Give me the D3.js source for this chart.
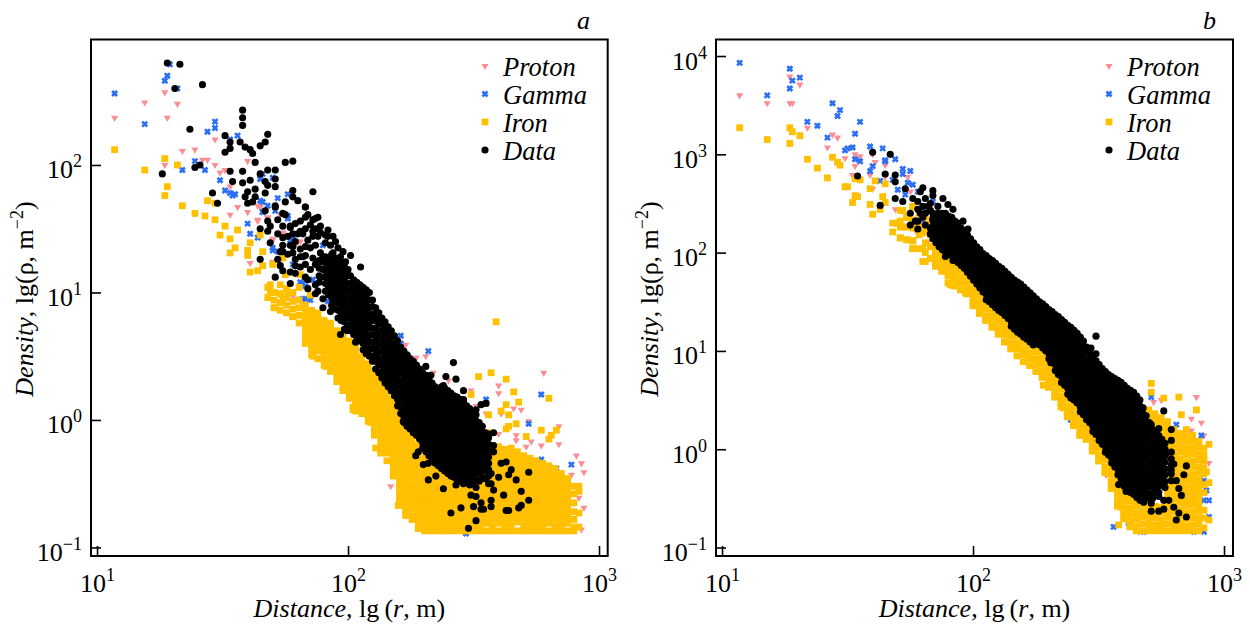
<!DOCTYPE html>
<html><head><meta charset="utf-8">
<script src="https://cdn.jsdelivr.net/npm/d3@7"></script>
<style>
html,body{margin:0;padding:0;background:#fff}
svg{display:block}
text{font-family:"Liberation Serif","Times New Roman",serif;fill:#000}
</style></head><body>
<svg id="c" width="1250" height="628"></svg>
<script>
// Values: each row is [lg r x100, lg rho x100, lg rho x100, ...]
const seriesNames = ["Proton","Gamma","Iron","Data"];
const xTicks = [10,100,1000];
const yTicksA = [0.1,1,10,100];
const yTicksB = [0.1,1,10,100,1000,10000];

const protonA = [[107,237],[119,249],[127,257,200],[132,248],[128,237],[147,220],[134,211],[139,212],[144,204],[142,204],[147,200],[149,194],[151,196],[153,183],[160,203,163],[156,167],[153,161],[165,167],[164,168,157,156],[173,161],[168,158,159],[170,141,124,142],[174,146,147],[181,140,95],[179,137],[161,123],[180,95,140],[182,91],[193,89],[178,97],[223,59],[227,48,49],[231,50],[229,37,38],[234,37],[195,44],[278,37],[260,27,21,-11],[249,23],[240,31],[266,9],[269,8],[261,5],[272,-1],[267,-12,-16],[284,-5,-19],[271,-21],[273,-17,-31],[277,-20],[270,-29],[291,-28],[293,-34],[294,-41,-69],[292,-61],[293,-86],[217,-52],[221,-33],[251,11],[247,11],[242,12],[255,5],[289,-43]];
const gammaA = [[107,256],[119,232],[129,279],[128,270],[127,266],[132,260],[147,234,229],[144,226],[156,223],[153,220],[139,203],[134,196],[143,196],[149,188],[151,180],[153,178],[155,177],[154,176],[160,154],[161,146],[164,143],[165,189,172],[166,193,163],[170,190,135,133],[172,174,132],[176,177,160],[166,171,163],[168,168],[171,164],[176,158],[178,142,141],[177,141],[178,122],[182,107,95],[183,105,95],[186,110],[181,108],[185,94],[190,137],[192,93],[204,63],[206,63],[221,66,60],[224,50],[226,45],[232,54],[212,29,30],[217,69],[255,16],[277,20,-31],[272,-3],[267,-29],[283,-38],[289,-35,-65],[230,-63],[237,-86],[247,-89],[276,-64],[282,-58],[286,-76],[271,-68],[224,-34],[227,-12]];
const ironA = [[107,212],[119,196],[127,205,176],[132,200],[128,183],[134,168],[139,162],[143,160],[144,172],[147,170,157],[151,152],[156,149],[149,145],[153,142,131],[155,135],[165,145],[161,139,116],[160,133,129],[166,132,121],[164,117],[170,122],[174,127,94],[175,114],[169,106,101],[173,99],[176,99],[171,88],[178,81],[181,114],[185,98,82],[188,81],[259,77],[252,34],[257,37],[263,32,12],[266,22],[280,17],[249,20],[268,14],[264,4,-5],[256,4,-10],[261,7],[263,-7],[267,-3],[277,-8],[281,-12],[283,-8],[280,-15],[271,-13],[186,50],[191,42],[198,23],[202,10,8],[209,-2],[211,-22],[213,-26],[220,-67],[223,-73],[226,-78],[228,-85],
[168,104,96],[170.5,100,94,88],[173,106,99,92,86],[175.5,103,96,90,84],[178,100,93,87,81],[180.5,104,94,88,82,76],[183,90,85,80,75,70,65,60],[185.5,86,81,76,71,66,61,56,51],[188,84,79,74,69,64,59,54,48],[190.5,78,73,68,63,58,53,48,43],[193,76,71,66,61,56,51,46,41,38],[195.5,70,65,60,55,50,45,40,35,30],[198,66,61,56,51,46,41,36,31,26,23],[200.5,62,57,52,47,42,37,32,27,22,17],[203,56,51,46,41,36,31,26,21,16,11,7],[205.5,50,45,40,35,30,25,20,15,10,5],[208,44,39,34,29,24,19,14,9,4,-1],[210.5,38,33,28,23,18,13,8,3,-2,-7,-12],[213,32,27,22,17,12,7,2,-3,-8,-13,-18,-23],[215.5,24,19,14,9,4,-1,-6,-11,-16,-21,-26,-32],[218,16,11,6,1,-4,-9,-14,-19,-24,-29,-34,-39,-44],[220.5,8,3,-2,-7,-12,-17,-22,-27,-32,-37,-42,-47,-52,-57,-62,-67],[223,0,-5,-10,-15,-20,-25,-30,-35,-40,-45,-50,-55,-60,-65,-70,-75],[225.5,-10,-15,-20,-25,-30,-35,-40,-45,-50,-55,-60,-65,-70,-75,-78],[228,-20,-25,-30,-35,-40,-45,-50,-55,-60,-65,-70,-75,-80,-85],
[230.5,-30,-35,-40,-45,-50,-55,-60,-65,-70,-75,-80,-85,-87],[233,-32,-37,-42,-47,-52,-57,-62,-67,-72,-77,-82,-87],[235.5,-30,-35,-40,-45,-50,-55,-60,-65,-70,-75,-80,-85,-87],[238,-32,-37,-42,-47,-52,-57,-62,-67,-72,-77,-82,-87],[240.5,-40,-45,-50,-55,-60,-65,-70,-75,-80,-85,-87],[243,-42,-47,-52,-57,-62,-67,-72,-77,-82,-87],[245.5,-40,-45,-50,-55,-60,-65,-70,-75,-80,-85,-87],[248,-42,-47,-52,-57,-62,-67,-72,-77,-82,-87],[250.5,-40,-45,-50,-55,-60,-65,-70,-75,-80,-85,-87],[253,-32,-37,-42,-47,-52,-57,-62,-67,-72,-77,-82,-87],
[255,-21,-26,-31,-36,-41,-46,-51,-56,-61,-66,-71,-76,-81,-87],[257.5,-23,-28,-33,-38,-43,-48,-53,-58,-63,-68,-73,-78,-83,-87],[260,-21,-26,-31,-36,-41,-46,-51,-56,-61,-66,-71,-76,-81,-87],[262.5,-23,-28,-33,-38,-43,-48,-53,-58,-63,-68,-73,-78,-83,-87],[265,-22,-27,-32,-37,-42,-47,-52,-57,-62,-67,-72,-77,-82,-87],[267.5,-25,-30,-35,-40,-45,-50,-55,-60,-65,-70,-75,-80,-87],[270,-28,-33,-38,-43,-48,-53,-58,-63,-68,-73,-78,-83,-87],[272.5,-30,-35,-40,-45,-50,-55,-60,-65,-70,-75,-80,-85,-87],[275,-32,-37,-42,-47,-52,-57,-62,-67,-72,-77,-82,-87],[277.5,-34,-39,-44,-49,-54,-59,-64,-69,-74,-79,-84,-87],[280,-36,-41,-46,-51,-56,-61,-66,-71,-76,-81,-87],[282.5,-38,-43,-48,-53,-58,-63,-68,-73,-78,-83,-87],[285,-42,-47,-52,-57,-62,-67,-72,-77,-82,-87],[287.5,-46,-51,-56,-61,-66,-71,-76,-81,-87],[290,-52,-58,-65,-72,-78,-84,-87],[292,-52,-56,-73,-84]];
const dataA = [[128,280],[133,279],[131,260],[142,263],[158,243,237,231,195,186],[137,228],[151,223,210],[168,224,196,184],[167,218,187],[165,215,193],[153,218,213,195],[157,218],[159,214,175],[161,212,188],[162,209],[163,202,181,175],[175,202,171,161],[178,203,180,175],[141,200],[139,198],[126,193],[171,196,189,167,183],[154,187],[186,179],[160,179,170],[146,178],[148,170],[167,178,164],[162,171],[180,172,146],[183,167,159],[168,156,148],[174,162,143,132],[165,150,126],[169,152,139],[177,152,116,107],[187,158],[189,152,131],[192,149,144,125],[186,144,127],[178,131,146,136],[182,128,146],[173,121,132],[171,112,168],[195,140],[199,124],[205,120],[177,151,137],[179,154,121],[181,156,128],[183,167,129],[184,161,141],[186,157,148],[188,159,144,101],[191,145,139],[193,137,85],[197,128,67],[201,129],[196,125],[200,118],[190,95],[203,61],
[172,157,146,126],[174,152,137,117],[176,144,130],[179,140,126,115],[181,148,134,120],[183,150,136,122,112],[185,153,135,118],[187,150,137,122,106,99],[189,147,124,112],[190,128,118,88],[194,144,131,122,92],[196,135,118],[198,132,112],[184,103,110],
[242,45],[231,42,35],[233,35],[239,34],[243,32],[238,27],[246,23,16],[253,12,-7],[255,13],[251,8,-1],[222,-1],[256,-11],[258,-10],[227,-28],[228,-25],[230,-35],[232,-34,-47],[235,-44],[238,-54],[243,-51],[241,-73],[245,-69],[251,-79,-60],[248,-85],[250,-68],[253,-70,-65],[254,-70],[257,-68,-63,-42,-50],[249,-59],[258,-55,-20,-25],[262,-59],[264,-71,-43],[263,-71,-33],[268,-69],[269,-67,-56],[272,-63,-41],[267,-47],[265,-39],[261,-34],[260,-45],[253,-42],[255,-46,-24],
[188.5,125,119,113,108],[191,128,123,117,112,107,101],[193.5,130,124,118,113,107,101,96,90],[196,125,120,114,108,103,97,92,86,80],[198.5,122,116,110,104,99,93,88,82,77,71],[201,113,107,102,96,91,85,80,75,70],[203.5,108,103,97,92,86,81,76,70,65],[206,104,98,92,87,82,76,71,65,60,55],[208.5,100,94,88,82,77,72,66,61,55,50],[211,88,83,78,72,67,62,56,51,46,40],[213.5,80,75,70,64,59,54,48,43,38,33],[216,73,68,63,57,52,47,41,36,31,26],[218.5,66,60,55,50,45,40,34,29,24,19],[221,57,52,47,42,37,31,26,21,16,10,5],[223.5,51,46,41,36,31,26,21,16,10,5,0,-5],[226,46,41,36,31,26,21,15,10,5,0,-5,-10],[228.5,40,35,30,25,20,15,10,5,0,-5,-10,-15],[231,35,30,25,20,15,10,5,0,-5,-10,-15,-20,-25],[233.5,29,24,19,14,9,4,-1,-6,-11,-16,-21,-26,-31],[236,24,19,14,9,4,-1,-6,-11,-16,-21,-26,-31,-36],[238.5,25,20,15,10,5,0,-5,-10,-15,-20,-25,-30,-35,-40],[241,21,16,11,6,1,-4,-9,-14,-19,-24,-29,-34,-39,-44],[243.5,18,13,8,3,-2,-7,-12,-17,-22,-27,-32,-37,-42,-47],[246,14,9,4,-1,-6,-11,-16,-21,-26,-31,-36,-41,-46,-50],[248.5,9,4,-1,-6,-11,-16,-21,-26,-31,-36,-41,-46,-51],[251,4,-1,-6,-11,-16,-21,-26,-31,-36,-41,-47,-53],[253.5,-5,-10,-15,-20,-25,-30,-35,-40,-46],[256,-14,-19,-24,-29,-34,-39,-44,-50],
[192.25,126,120,115,110,104,98],[194.75,127,121,116,110,104,99,93,87],[197.25,124,118,112,106,100,95,89,84,78],[199.75,118,113,107,101,96,90,85,80,74,70],[202.25,110,105,99,94,88,83,78,73,67],[204.75,106,100,95,89,84,78,73,68,62],[207.25,102,96,90,85,79,74,68,63,58,52],[209.75,94,89,83,78,72,67,61,56,50,46],[212.25,84,79,75,69,64,59,53,48,43,37],[214.75,77,72,66,61,55,50,45,39,34,29],[217.25,70,65,60,54,49,44,38,33,28,23],[219.75,62,57,52,47,42,37,32,27,21,16,11],[222.25,54,49,44,39,34,28,23,18,13,8,3,-2],[224.75,48,43,38,33,28,23,18,13,8,3,-2,-7],[227.25,43,38,33,28,23,18,13,8,3,-2,-7,-12],[229.75,37,32,27,22,17,12,7,2,-3,-8,-13,-18,-22],[232.25,32,27,22,17,12,7,2,-3,-8,-13,-18,-23,-28],[234.75,26,21,16,11,6,1,-4,-9,-14,-19,-24,-29,-34],[237.25,26,21,16,11,7,2,-3,-8,-13,-18,-23,-28,-33,-38],[239.75,23,18,13,8,3,-2,-7,-12,-17,-22,-27,-32,-37,-42],[242.25,19,15,10,5,0,-5,-10,-15,-20,-25,-30,-35,-40,-45],[244.75,16,11,6,1,-4,-9,-14,-19,-24,-29,-34,-39,-44,-48],[247.25,11,6,1,-4,-9,-14,-19,-24,-29,-34,-39,-44,-49],[249.75,6,1,-4,-9,-14,-19,-24,-29,-34,-39,-44,-50],[252.25,-2,-7,-12,-17,-22,-27,-32,-37,-42,-48],[254.75,-10,-15,-20,-25,-30,-35,-40,-46]];

const protonB = [[107,360],[118,352],[127,352,379],[128,352],[131,371],[134,327],[144,320],[146,317],[142,307],[149,296],[153,300,288],[155,298],[161,292],[160,300,265],[165,289,277],[159,279],[152,279],[174,277],[169,244],[175,262],[177,223],[182,211],[183,242],[197,169],[202,187],[289,53],[291,27],[287,31],[283,36],[272,48],[262,60],[249,91],[294,-14],[292,14],[287,19],[275,50],[266,-84],[286,1],[253,-26]];
const gammaB = [[107,393],[118,360],[127,387],[128,375],[127,367],[131,378],[144,352],[147,345],[146,339],[134,333],[138,329],[155,333],[153,321],[142,317],[149,304],[150,306],[152,307],[159,308,283],[164,306],[169,295],[153,295],[155,293],[165,293,294],[160,288],[172,285,280],[175,283],[163,273],[168,274],[174,271],[176,269],[170,264],[173,259],[178,262],[184,252],[180,233],[187,209],[192,213],[194,223],[197,196],[239,35,30],[240,28],[249,6],[253,-24],[256,-35,-40,-79],[262,-60,-75],[261,-65],[271,53],[281,25],[291,14],[294,-52,-69],[292,-52,-32],[289,-18],[268,-84],[288,-84],[292,-84],[263,-48],[293,-42]];
const ironB = [[107,327],[118,315],[127,311,327],[128,323],[131,319],[134,295],[138,286],[142,276],[144,297],[146,292],[147,289],[149,267],[150,267],[152,251],[153,258,275],[154,257],[155,274],[159,265,249],[161,273],[165,270,251],[164,257],[160,239],[163,244],[168,230,221],[170,230],[172,226,243],[171,215],[174,213,236],[176,212,204,233],[176,247],[180,204,191,220],[184,206],[183,194],[185,189],[188,189],[189,181],[191,167],[194,169],[197,159],[200,150],[271,67,58],[276,52],[282,53],[289,40],[283,35],[294,5,-34,-72],[236,42],[228,65],[293,-23],[258,-77],[259,-59],[261,-67],
[171,243,232,226,215],[173.5,236,226,213],[176,247,233,225,212,204],[178.5,240,228,218,204],[181,236,222,210,200,191],[183,231,218,206,194],
[185,205,199,192,186],[187.5,200,194,187,181],[190,195,189,182,176,169],[192.5,192,186,179,173,166],[195,188,182,175,169,162],[197.5,184,177,171,164,158],[200,176,170,163,157,150,146],[202.5,170,163,157,150,144,138],[205,162,156,149,143,136,131],[207.5,156,149,143,136,130,124],[210,148,142,135,129,122,117],[212.5,142,135,129,122,116,109],[215,134,128,121,115,108,102],[217.5,128,121,115,108,102,95],[220,122,115,109,102,96,89],[222.5,118,111,105,98,92,85],[225,112,105,99,92,86,79],[227.5,106,100,93,87,80,73],[230,102,95,89,82,76,69,63],[232.5,92,85,79,72,66,59,53],[235,80,74,67,61,54,48,43],[237.5,70,64,57,51,44,38,33],[240,60,54,47,41,34,28,24],[242.5,50,44,37,31,24,18,14],[245,40,34,27,21,14,10],[247.5,30,24,17,11,4,-2],[250,20,14,7,1,-6,-12],[252.5,8,2,-5,-11,-18,-24],[255,0,-7,-13,-20,-26,-33,-40],[257.5,-20,-27,-33,-40,-46,-53,-58],[260,-34,-40,-47,-53,-60,-66,-71],[262.5,-40,-47,-53,-60,-66,-73,-79],[265,-45,-52,-58,-65,-71,-78,-83],[267.5,-50,-56,-63,-69,-76,-83],[270,40,34,27,-52,-58,-65,-71,-77,-83],[272.5,36,30,24,-58,-64,-70,-77,-83],[275,32,26,19,13,7,-59,-65,-72,-78,-83],
[277.5,28,22,15,9,2,-4,-11,-17,-24,-30,-37,-43,-50,-56,-63,-69,-76,-83],[280,20,14,7,1,-6,-12,-19,-25,-32,-38,-45,-51,-58,-64,-71,-77,-83],[282.5,16,10,3,-3,-10,-16,-23,-29,-36,-42,-49,-55,-62,-68,-75,-81,-83],[285,20,13,7,0,-6,-13,-19,-26,-32,-39,-45,-52,-58,-65,-71,-78,-83],[287.5,14,8,1,-5,-12,-18,-25,-31,-38,-44,-51,-57,-64,-70,-77,-83],[290,8,2,-5,-11,-18,-24,-31,-37,-44,-50,-57,-63,-70,-76,-83],[292,1,-6,-12,-19,-25,-36,-44,-62,-70,-80]];
const dataB = [[160,302],[167,300],[154,278],[165,280],[169,279,272],[173,265],[163,248],[169,255],[172,252],[176,255],[180,266,236],[179,262,240],[184,263,258],[188,255],[190,249,213],[192,244,192],[177,232],[180,247],[182,247],[184,235],[186,247,240,226],[183,225],[189,236,196],[194,230,203],[196,232,187],[198,224],[200,181],[175,240,228],[178,252,244,232,224],[181,255,240,228],[183,250,243,219],
[249,115,97],[247,103],[276,39,-61],[279,20,9],[274,21,-63,-48],[271,25,-63,-55],[285,-17,-69],[280,-15,-59],[277,-4],[279,-21],[284,-26],[281,-32,-72],[282,-40,-65],[283,-47],[278,-52],[276,-52],[268,-54],[266,-47],[261,-43],[258,-36,-23],[260,-25],[263,-41],[269,-45],[239,52],[231,88],[237,79],[207,150],
[184,240,233,227,220,214],[186.5,238,232,225,219,212,206],[189,240,234,227,221,214,208,201],[191.5,236,229,223,216,210,203,197],[194,228,222,215,209,202,196,190],[196.5,222,216,209,203,196,190,184],[199,214,208,201,195,188,182,176],[201.5,206,200,193,187,180,174,168],[204,199,193,186,180,173,167,160],[206.5,194,188,181,175,168,162,155,150],[209,189,183,176,170,163,157,150,144],[211.5,184,178,171,165,158,152,145,139],[214,178,172,165,159,152,146,139,133],[216.5,172,166,159,153,146,140,133,127,122],[219,168,162,155,149,142,136,129,123,117],[221.5,162,156,149,143,136,130,123,117,112],[224,156,150,143,137,130,124,117,111,106],[226.5,150,144,137,131,124,118,111,106],[229,145,139,132,126,119,113,106,100],[231.5,140,134,127,121,114,108,101,95,88],[234,135,129,122,116,109,103,96,90,83,76],[236.5,129,123,116,110,103,97,90,84,77,71,65],[239,124,118,111,105,98,92,85,79,72,66,59,53],[241.5,118,112,105,99,92,86,79,73,66,60,53,47],[244,110,104,97,91,84,78,71,65,58,52,45,39,35],[246.5,98,92,85,79,72,66,59,53,46,40,33,27],[249,90,84,77,71,64,58,51,45,38,32,25,19,15],[251.5,82,76,69,63,56,50,43,37,30,24,17,11,5],[254,76,70,63,57,50,44,37,31,24,18,11,5,-2,-6],[256.5,72,66,59,53,46,40,33,27,20,14,7,1,-6,-12,-18],[259,68,62,55,49,42,36,29,23,16,10,3,-3,-10,-16,-23,-30],[261.5,62,56,49,43,36,30,23,17,10,4,-3,-9,-16,-22,-29,-35,-42],[264,58,52,45,39,32,26,19,13,6,0,-7,-13,-20,-26,-33,-39,-46],[266.5,50,44,37,31,24,18,11,5,-2,-8,-15,-21,-28,-34,-41,-47,-52],[269,34,28,21,15,8,2,-5,-11,-18,-24,-31,-37,-44,-50],[271.5,20,14,7,1,-6,-12,-19,-25,-32,-38,-45,-50],[274,14,8,1,-5,-12,-18,-25,-31,-38,-44],[276.5,6,0,-7,-13,-20,-26,-33,-39],[279,-3,-10,-16,-25,-32],
[185.25,236,230,223,217,210],[187.75,240,235,229,222,216,209,203],[190.25,237,231,224,218,211,205,199],[192.75,232,226,219,213,206,200,194],[195.25,225,219,212,206,199,193,187],[197.75,218,212,205,199,192,186,180],[200.25,210,204,197,191,184,178,172],[202.75,203,197,190,184,177,171,164],[205.25,197,190,183,177,170,164,158,152],[207.75,192,185,179,172,166,159,153,147],[210.25,186,180,173,167,160,154,147,141],[212.75,181,175,168,162,155,149,142,136],[215.25,175,169,162,156,149,143,136,130,125],[217.75,170,164,157,151,144,138,131,125,119],[220.25,165,159,152,146,139,133,126,120,114],[222.75,159,153,146,140,133,127,120,114,109],[225.25,153,147,140,134,127,121,114,108],[227.75,148,141,135,128,122,115,109,103],[230.25,142,136,130,123,117,110,104,97,92],[232.75,137,131,125,118,112,105,99,92,86,80],[235.25,132,126,119,113,106,100,93,87,80,74,68],[237.75,126,120,114,107,101,94,88,81,75,68,62,56],[240.25,121,115,108,102,95,89,82,76,69,63,56,50],[242.75,114,108,101,95,88,82,75,69,62,56,49,43,38],[245.25,104,98,91,85,78,72,65,59,52,46,39,33,30],[247.75,94,88,81,75,68,62,55,49,42,36,29,23,18],[250.25,86,80,73,67,60,54,47,41,34,28,21,15,9],[252.75,79,73,66,60,53,47,40,34,27,21,14,8,2,-3],[255.25,74,68,61,55,48,42,35,29,22,16,9,3,-3,-9,-14],[257.75,70,64,57,51,44,38,31,25,18,12,5,-1,-8,-14,-20,-26],[260.25,65,59,52,46,39,33,26,20,13,7,0,-6,-13,-19,-26,-32,-38],[262.75,60,54,47,41,34,28,21,15,8,2,-5,-11,-18,-24,-31,-37,-44],[265.25,54,48,41,35,28,22,15,9,2,-4,-11,-17,-24,-30,-37,-43,-49],[267.75,42,36,29,23,16,10,3,-3,-10,-16,-23,-29,-36,-42,-48],[270.25,27,21,14,8,1,-5,-12,-18,-25,-31,-38,-45],[272.75,17,11,4,-2,-9,-15,-22,-28,-35,-41],[275.25,10,4,-3,-9,-16,-22,-29,-36]];

// Style
const colors = {Proton:"#fb8e95",Gamma:"#2c6ff5",Iron:"#ffc000",Data:"#000"};
const sym = {
  Proton:{p:d3.symbol(d3.symbolTriangle,22)(),t:"rotate(180)"},
  Gamma:{p:d3.symbol(d3.symbolTimes,18)(),t:"",stroke:2.7},
  Iron:{p:d3.symbol(d3.symbolSquare,46)(),t:""},
  Data:{p:d3.symbol(d3.symbolCircle,40)(),t:""}
};
const svg = d3.select("#c");
const expand = rows => rows.flatMap(r => r.slice(1).map(v => ({r:10**(r[0]/100), rho:10**(v/100)})));

function marks(g, name, pts, x, y){
  const s = sym[name];
  g.append("g").attr("class","series-"+name).selectAll("path").data(pts).join("path")
    .attr("d",s.p)
    .attr("transform",d=>`translate(${x(d.r)},${y(d.rho)}) ${s.t}`)
    .attr("fill",s.stroke?"none":colors[name])
    .attr("stroke",s.stroke?colors[name]:"none")
    .attr("stroke-width",s.stroke||0);
}
function powLabel(sel, v){
  const e = Math.round(Math.log10(v));
  sel.text(null);
  sel.append("tspan").text("10");
  sel.append("tspan").attr("font-size",18).attr("dy",-11).text(String(e).replace("-","\u2212"));
}
function panel(o){
  const x = d3.scaleLog().domain(o.xd).range([o.l,o.r]);
  const y = d3.scaleLog().domain(o.yd).range([556,39.5]);
  const g = svg.append("g");
  marks(g,"Proton",expand(o.s[0]),x,y);
  marks(g,"Gamma",expand(o.s[1]),x,y);
  marks(g,"Iron",expand(o.s[2]),x,y);
  marks(g,"Data",expand(o.s[3]),x,y);
  const ax = g.append("g").attr("transform","translate(0,556)")
    .call(d3.axisBottom(x).tickValues(xTicks).tickSize(-10).tickFormat(""));
  const ay = g.append("g").attr("transform",`translate(${o.l},0)`)
    .call(d3.axisLeft(y).tickValues(o.yt).tickSize(-10).tickFormat(""));
  ax.select(".domain").remove(); ay.select(".domain").remove();
  g.selectAll(".tick line").attr("stroke","#000").attr("stroke-width",1.6);
  ax.selectAll(".tick").append("text").attr("fill","#000").attr("y",36).attr("text-anchor","middle")
    .attr("font-size",26).each(function(d){powLabel(d3.select(this),d)});
  ay.selectAll(".tick").append("text").attr("fill","#000").attr("x",-9).attr("y",13).attr("text-anchor","end")
    .attr("font-size",26).each(function(d){powLabel(d3.select(this),d)});
  g.append("rect").attr("x",o.l).attr("y",39.5).attr("width",o.r-o.l).attr("height",516.5)
    .attr("fill","none").attr("stroke","#000").attr("stroke-width",2);
  const xl = g.append("text").attr("x",(o.l+o.r)/2+0).attr("y",617).attr("text-anchor","middle").attr("font-size",26);
  xl.append("tspan").attr("font-style","italic").text("Distance");
  xl.append("tspan").text(", lg\u2009(");
  xl.append("tspan").attr("font-style","italic").text("r");
  xl.append("tspan").text(", m)");
  const yl = g.append("text").attr("transform",`translate(${o.l-58},299) rotate(-90)`).attr("text-anchor","middle").attr("font-size",26);
  yl.append("tspan").attr("font-style","italic").text("Density");
  yl.append("tspan").text(", lg(\u03c1, m");
  yl.append("tspan").attr("font-size",18).attr("dy",-10).text("\u22122");
  yl.append("tspan").attr("dy",10).text(")");
  g.append("text").attr("x",o.letterX).attr("y",29).attr("font-size",26).attr("font-style","italic").text(o.letter);
  seriesNames.forEach((n,i)=>{
    const yy = 66+i*28;
    const s = sym[n];
    g.append("path").attr("d",s.p).attr("transform",`translate(${o.legX},${yy}) ${s.t}`)
      .attr("fill",s.stroke?"none":colors[n]).attr("stroke",s.stroke?colors[n]:"none").attr("stroke-width",s.stroke||0);
    g.append("text").attr("x",o.legX+18).attr("y",yy+10).attr("font-size",26.5).attr("font-style","italic").text(n);
  });
}
panel({l:91,r:607.7,xd:[9.46,1083],yd:[0.0857,964],yt:yTicksA,s:[protonA,gammaA,ironA,dataA],letter:"a",letterX:577,legX:485});
panel({l:716,r:1233,xd:[9.46,1086],yd:[0.082,14723],yt:yTicksB,s:[protonB,gammaB,ironB,dataB],letter:"b",letterX:1203,legX:1109});
</script>
</body></html>
